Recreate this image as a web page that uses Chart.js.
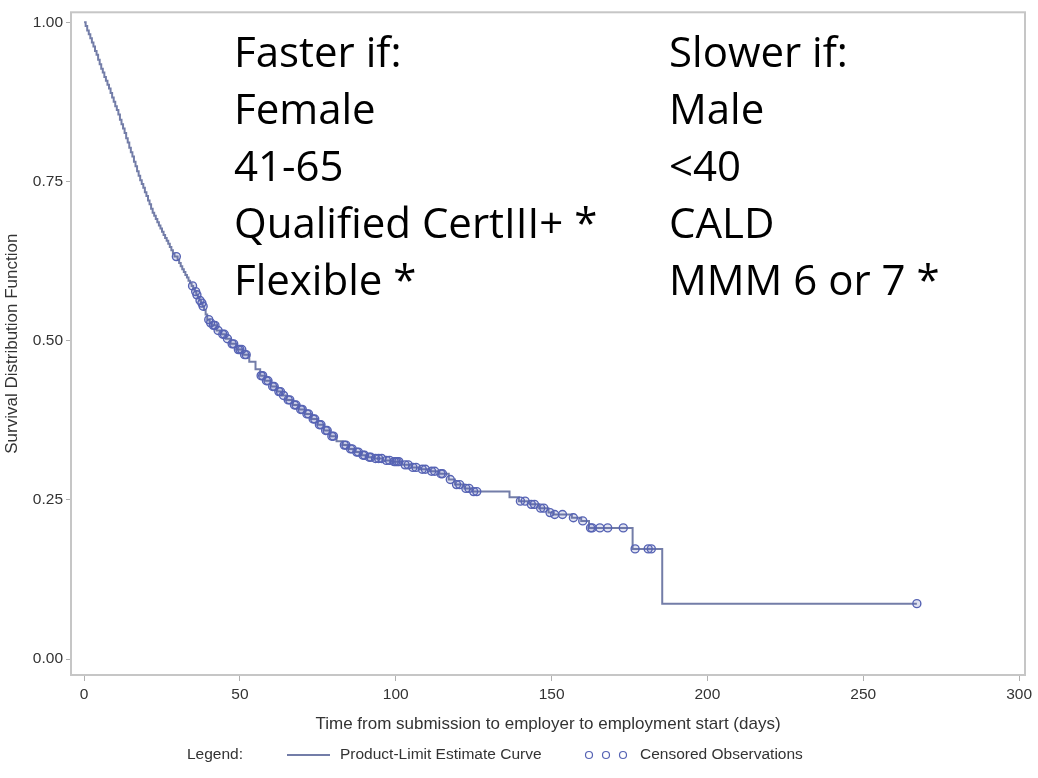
<!DOCTYPE html>
<html>
<head>
<meta charset="utf-8">
<title>Product-Limit Survival Estimate</title>
<script src="https://cdn.jsdelivr.net/npm/chart.js@4.4.1/dist/chart.umd.min.js"></script>
<style>
    html, body { margin: 0; padding: 0; background: #ffffff; }
    #wrap { width: 1038px; height: 778px; }
</style>
</head>
<body>
<div id="wrap"><canvas id="kmChart" width="1038" height="778"></canvas></div>
<script>
// --- Data ---
// step curve: day of each drop and the survival value after it
const eventDays = [
    0, 0.5, 1, 1.5, 2, 2.5, 3, 3.5, 4, 4.5, 5, 5.5, 6, 6.5, 7, 7.5, 8, 8.5,
    9, 9.5, 10, 10.5, 11, 11.5, 12, 12.5, 13, 13.5, 14, 14.5, 15, 15.5, 16,
    16.5, 17, 17.5, 18, 18.5, 19, 19.5, 20, 20.5, 21, 21.5, 22, 22.5, 23,
    23.5, 24, 24.5, 25, 25.5, 26, 26.5, 27, 27.5, 28, 28.5, 29, 30, 30.5,
    31, 31.5, 32, 32.5, 33, 33.5, 34, 34.5, 35, 35.5, 36, 36.5, 37, 37.5,
    38, 38.5, 39, 39.5, 40.3, 41, 42.5, 44, 45.5, 47, 49, 51, 53, 55,
    56.5, 58, 60, 62, 63.5, 65, 67, 69, 71, 73, 75, 77, 79, 81, 83, 85, 87,
    89, 91, 93, 96, 99, 102, 105, 108, 111, 114, 117, 119, 122, 124.5,
    136.5, 139.5, 143, 146, 149, 150.5, 156.5, 159.5, 162, 176, 185.5, 267.2
];
const survival = [
    1.000, 0.994, 0.987, 0.981, 0.975, 0.968, 0.962, 0.955, 0.949, 0.941,
    0.934, 0.927, 0.921, 0.914, 0.908, 0.902, 0.896, 0.889, 0.882, 0.875,
    0.868, 0.862, 0.855, 0.847, 0.840, 0.833, 0.826, 0.818, 0.811, 0.803,
    0.796, 0.789, 0.781, 0.774, 0.766, 0.759, 0.752, 0.746, 0.740, 0.733,
    0.727, 0.720, 0.714, 0.707, 0.701, 0.696, 0.691, 0.686, 0.681, 0.676,
    0.671, 0.666, 0.661, 0.657, 0.652, 0.647, 0.642, 0.637, 0.632, 0.627,
    0.622, 0.617, 0.612, 0.608, 0.603, 0.599, 0.594, 0.590, 0.586, 0.581,
    0.577, 0.572, 0.568, 0.563, 0.559, 0.554, 0.548, 0.541, 0.533, 0.528,
    0.524, 0.516, 0.510, 0.503, 0.495, 0.486, 0.478, 0.467, 0.455, 0.445,
    0.437, 0.428, 0.420, 0.414, 0.407, 0.399, 0.392, 0.385, 0.377, 0.368,
    0.359, 0.350, 0.342, 0.336, 0.330, 0.325, 0.320, 0.317, 0.315, 0.312,
    0.310, 0.305, 0.301, 0.298, 0.295, 0.291, 0.282, 0.274, 0.268, 0.263,
    0.254, 0.248, 0.243, 0.237, 0.230, 0.227, 0.222, 0.217, 0.206, 0.173,
    0.087, 0.087
];

// censored observations (circles)
const censoredDays = [
    29.6, 34.8, 35.8, 36.2, 37.2, 37.8, 38.2, 40, 40.6, 41.5, 42, 43, 44.5, 45,
    46, 47.5, 48, 49.5, 50, 50.6, 51.5, 52, 56.8, 57.3, 58.5, 59, 60.5, 61,
    62.5, 63, 64, 65.5, 66, 67.5, 68, 69.5, 70, 71.5, 72, 73.5, 74, 75.5, 76,
    77.5, 78, 79.5, 80, 83.5, 84, 85.5, 86, 87.5, 88, 89.5, 90, 91.5, 92,
    93.5, 94.5, 95.5, 97, 98, 99.5, 100, 100.5, 101, 103, 104, 105.5, 106.5,
    108.5, 109.5, 111.5, 112.5, 114.5, 115, 117.5, 119.5, 120.5, 122.5,
    123.5, 125, 126, 140, 141.5, 143.5, 144.5, 146.5, 147.5, 149.5, 151,
    153.5, 157, 160, 162.5, 163, 165.5, 168, 173, 176.8, 181, 182, 267.2
];
const censoredSurvival = [
    0.632, 0.586, 0.577, 0.572, 0.563, 0.559, 0.554, 0.533, 0.528, 0.524,
    0.524, 0.516, 0.510, 0.510, 0.503, 0.495, 0.495, 0.486, 0.486, 0.486,
    0.478, 0.478, 0.445, 0.445, 0.437, 0.437, 0.428, 0.428, 0.420, 0.420,
    0.414, 0.407, 0.407, 0.399, 0.399, 0.392, 0.392, 0.385, 0.385, 0.377,
    0.377, 0.368, 0.368, 0.359, 0.359, 0.350, 0.350, 0.336, 0.336, 0.330,
    0.330, 0.325, 0.325, 0.320, 0.320, 0.317, 0.317, 0.315, 0.315, 0.315,
    0.312, 0.312, 0.310, 0.310, 0.310, 0.310, 0.305, 0.305, 0.301, 0.301,
    0.298, 0.298, 0.295, 0.295, 0.291, 0.291, 0.282, 0.274, 0.274, 0.268,
    0.268, 0.263, 0.263, 0.248, 0.248, 0.243, 0.243, 0.237, 0.237, 0.230,
    0.227, 0.227, 0.222, 0.217, 0.206, 0.206, 0.206, 0.206, 0.206, 0.173,
    0.173, 0.173, 0.087
];

const xTicks = [0, 50, 100, 150, 200, 250, 300];
const yTicks = [0, 0.25, 0.5, 0.75, 1];

const xTitle = "Time from submission to employer to employment start (days)";
const yTitle = "Survival Distribution Function";
const legendHeading = "Legend:";
const curveLabel = "Product-Limit Estimate Curve";
const censoredLabel = "Censored Observations";

// text laid over the plot
const fasterIf = ["Faster if:", "Female", "41-65", "Qualified CertIII+ *", "Flexible *"];
const slowerIf = ["Slower if:", "Male", "<40", "CALD", "MMM 6 or 7 *"];

// --- Colours / fonts ---
const curveColor = "#737da8";
const circleColor = "#5663b4";
const axisTextColor = "#333333";
const frameColor = "#c6c6c6";
const sansFamily = "'Liberation Sans', Arial, sans-serif";
const valueFont = { family: sansFamily, size: 15.5 }; // tick values, legend
const labelFont = { family: sansFamily, size: 17 };   // axis titles

// --- Plugins ---
// light grey box round the plot area
const framePlugin = {
    id: "frame",
    beforeDatasetsDraw(chart) {
        const { ctx, chartArea: a } = chart;
        ctx.save();
        ctx.strokeStyle = frameColor;
        ctx.lineWidth = 2;
        ctx.strokeRect(a.left, a.top, a.right - a.left, a.bottom - a.top);
        ctx.restore();
    },
};

// the two big lists of text
const notesPlugin = {
    id: "notes",
    afterDraw(chart) {
        const ctx = chart.ctx;
        ctx.save();
        ctx.fillStyle = "#000000";
        ctx.font = "42px 'Open Sans', sans-serif";
        ctx.textBaseline = "alphabetic";
        ctx.textAlign = "left";
        fasterIf.forEach((t, i) => ctx.fillText(t, 234, 67 + i * 57));
        slowerIf.forEach((t, i) => ctx.fillText(t, 669, 67 + i * 57));
        ctx.restore();
    },
};

// SAS style legend row under the axis title
const legendPlugin = {
    id: "sasLegend",
    afterDraw(chart) {
        const ctx = chart.ctx;
        const y = 755;
        ctx.save();
        ctx.font = `${valueFont.size}px ${sansFamily}`;
        ctx.fillStyle = axisTextColor;
        ctx.textBaseline = "middle";
        ctx.textAlign = "left";
        ctx.fillText(legendHeading, 187, y);

        ctx.strokeStyle = curveColor;
        ctx.lineWidth = 2;
        ctx.beginPath();
        ctx.moveTo(287, y);
        ctx.lineTo(330, y);
        ctx.stroke();
        ctx.fillText(curveLabel, 340, y);

        ctx.strokeStyle = circleColor;
        ctx.lineWidth = 1.2;
        [589, 606, 623].forEach((cx) => {
            ctx.beginPath();
            ctx.arc(cx, y, 3.5, 0, Math.PI * 2);
            ctx.stroke();
        });
        ctx.fillText(censoredLabel, 640, y);
        ctx.restore();
    },
};

// --- Chart ---
const ctx = document.getElementById("kmChart").getContext("2d");

const curvePoints = eventDays.map((d, i) => ({ x: d, y: survival[i] }));
const censoredPoints = censoredDays.map((d, i) => ({ x: d, y: censoredSurvival[i] }));

const kmChart = new Chart(ctx, {
    type: "scatter",
    data: {
        datasets: [
            {
                label: curveLabel,
                data: curvePoints,
                showLine: true,
                stepped: true, // step-before: hold the value, drop at the event day
                borderColor: curveColor,
                borderWidth: 2,
                pointRadius: 0,
                fill: false,
                order: 2,
            },
            {
                label: censoredLabel,
                data: censoredPoints,
                showLine: false,
                pointStyle: "circle",
                pointRadius: 4,
                pointBorderWidth: 1.4,
                pointBorderColor: circleColor,
                pointBackgroundColor: "rgba(86,99,180,0.18)",
                order: 1,
            },
        ],
    },
    options: {
        responsive: false,
        animation: false,
        devicePixelRatio: 1,
        layout: { padding: { left: 0, right: 13, top: 7, bottom: 0 } },
        plugins: {
            legend: { display: false },
            tooltip: { enabled: false },
        },
        scales: {
            x: {
                type: "linear",
                min: -4.2,
                max: 301.9,
                afterBuildTicks: (scale) => {
                    scale.ticks = xTicks.map((v) => ({ value: v }));
                },
                afterFit: (scale) => {
                    scale.height = 103;
                },
                grid: {
                    drawOnChartArea: false,
                    drawTicks: true,
                    tickLength: 6,
                    color: "#b0b0b0",
                },
                border: { display: false },
                ticks: {
                    color: axisTextColor,
                    font: valueFont,
                    padding: 4,
                    maxRotation: 0,
                    autoSkip: false,
                },
                title: {
                    display: true,
                    text: xTitle,
                    color: axisTextColor,
                    font: labelFont,
                    padding: { top: 0, bottom: 43 },
                },
            },
            y: {
                type: "linear",
                min: -0.025,
                max: 1.0156,
                afterBuildTicks: (scale) => {
                    scale.ticks = yTicks.map((v) => ({ value: v }));
                },
                afterFit: (scale) => {
                    scale.width = 71;
                },
                grid: {
                    drawOnChartArea: false,
                    drawTicks: true,
                    tickLength: 5,
                    color: "#b0b0b0",
                },
                border: { display: false },
                ticks: {
                    color: axisTextColor,
                    font: valueFont,
                    padding: 3,
                    callback: (value) => value.toFixed(2),
                },
                title: {
                    display: true,
                    text: yTitle,
                    color: axisTextColor,
                    font: labelFont,
                    padding: { top: 2, bottom: 0 },
                },
            },
        },
    },
    plugins: [framePlugin, notesPlugin, legendPlugin],
});
</script>
</body>
</html>
